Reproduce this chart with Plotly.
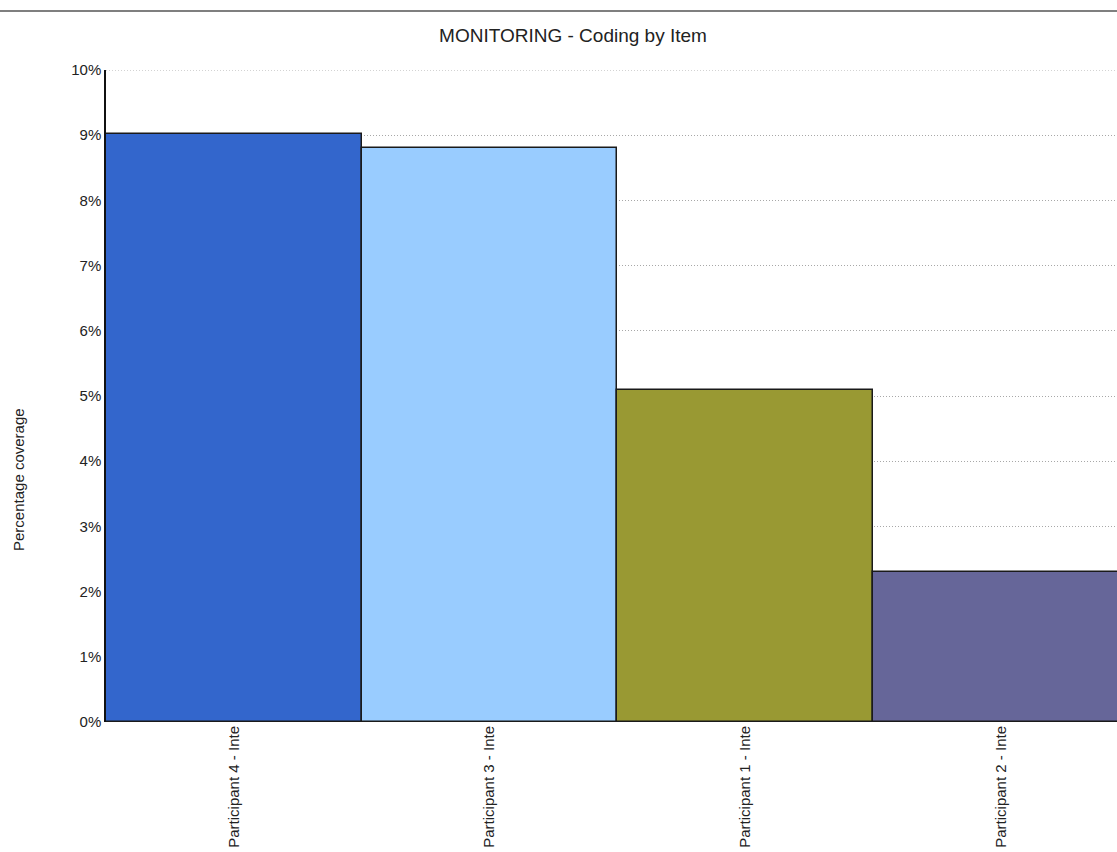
import plotly.graph_objects as go

categories = ["Participant 4 - Inte", "Participant 3 - Inte", "Participant 1 - Inte", "Participant 2 - Inte"]
coverage = [9.02, 8.80, 5.09, 2.30]
colors = ["#3366CC", "#99CCFF", "#999933", "#666699"]
y_ticks = list(range(0, 11))
y_tick_text = [f"{v}%" for v in y_ticks]

W, H = 1117, 852
L, R, T, B = 106, 0, 70, 130

fig = go.Figure(go.Bar(
    x=list(range(len(categories))), y=coverage,
    marker=dict(color=colors, line=dict(color="#1a1a1a", width=1.5)),
    width=1.0,
))

plot_w = W - L - R
bar_px = 255.7
grid_dash = "1px,2px"
fig.update_layout(
    width=W, height=H,
    margin=dict(l=L, r=R, t=T, b=B, autoexpand=False),
    paper_bgcolor="white", plot_bgcolor="white",
    font=dict(family="Liberation Sans, Arial, sans-serif", size=15, color="#222"),
    showlegend=False,
    bargap=0,
    title=dict(text="MONITORING - Coding by Item", x=573 / W, xanchor="center",
               y=1 - 35 / H, yanchor="middle", font=dict(size=19, color="#222")),
    xaxis=dict(range=[-0.5, -0.5 + plot_w / bar_px], tickmode="array",
               tickvals=list(range(len(categories))), ticktext=categories,
               tickangle=-90, showgrid=False, zeroline=False, showline=False,
               ticks="", automargin=False, tickfont=dict(size=15, color="#222")),
    yaxis=dict(range=[0, 10], tickvals=y_ticks, ticktext=y_tick_text,
               showgrid=True, gridcolor="#a8a8a8", griddash=grid_dash, gridwidth=1,
               zeroline=False, showline=True, linecolor="#111", linewidth=1.5,
               ticks="", automargin=False, tickfont=dict(size=15, color="#222")),
    shapes=[
        dict(type="line", xref="paper", yref="paper",
             x0=-L / plot_w, x1=1, y0=(H - B - 11) / (H - T - B), y1=(H - B - 11) / (H - T - B),
             line=dict(color="#555", width=1.5)),
        dict(type="line", xref="paper", yref="y", x0=0, x1=1, y0=10, y1=10, layer="below",
             line=dict(color="#a8a8a8", width=1, dash=grid_dash)),
    ],
    annotations=[dict(text="Percentage coverage", xref="paper", yref="paper",
                      x=-(L - 19) / plot_w, y=(H - B - 480) / (H - T - B),
                      textangle=-90, showarrow=False, xanchor="center", yanchor="middle",
                      font=dict(size=15, color="#222"))],
)

fig.write_html("out.html")
